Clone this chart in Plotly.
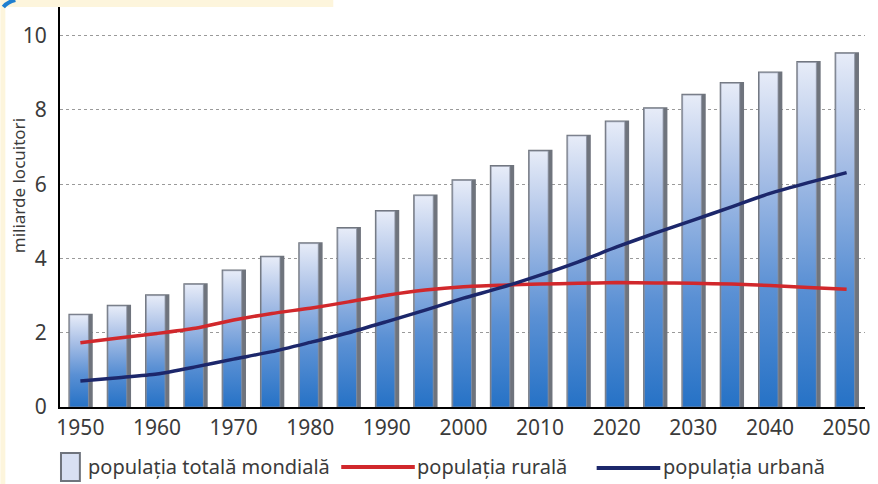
import plotly.graph_objects as go

# Data (billions of people)
years = list(range(1950, 2051, 5))
total = [2.48, 2.72, 3.0, 3.3, 3.67, 4.04, 4.4, 4.81, 5.27, 5.69, 6.1,
         6.48, 6.89, 7.3, 7.68, 8.04, 8.4, 8.72, 9.0, 9.28, 9.52]
rural = [1.73, 1.86, 1.98, 2.12, 2.34, 2.52, 2.66, 2.83, 3.01, 3.15, 3.24,
         3.28, 3.31, 3.33, 3.35, 3.34, 3.33, 3.31, 3.27, 3.22, 3.17]
urban = [0.70, 0.79, 0.89, 1.08, 1.29, 1.49, 1.74, 2.0, 2.30, 2.61, 2.93,
         3.22, 3.55, 3.91, 4.31, 4.68, 5.03, 5.39, 5.75, 6.04, 6.31]
tick_years = list(range(1950, 2051, 10))
y_ticks = [0, 2, 4, 6, 8, 10]

labels = ['populația totală mondială', 'populația rurală', 'populația urbană']
y_title = 'miliarde locuitori'

# Colors
shadow = '#6f747d'
red = '#d1282c'
navy = '#1c276b'
bar_scale = [[0, '#2672c6'], [0.35, '#5a90d4'], [0.7, '#a8bfe6'], [1, '#e7ecf8']]
font_family = 'Noto Sans, Open Sans, sans-serif'
text_color = '#3b3b3b'

# plot area in pixels (for placing the hand-made legend)
W, H = 878, 484
L, R, T, B = 60, 870, 7, 407


def px(x):
    return (x - L) / (R - L)


def py(y):
    return (B - y) / (B - T)


fig = go.Figure()

# bar "shadow" (the grey 3D edge on the right and top)
fig.add_trace(go.Bar(
    x=years, y=total, width=2.85, offset=-1.4,
    marker=dict(color=shadow, line=dict(color=shadow, width=2.5)),
    showlegend=False, hoverinfo='skip'
))

# bar faces with vertical gradient
for yr, v in zip(years, total):
    x0, x1 = yr - 1.4, yr + 1.05
    fig.add_trace(go.Scatter(
        x=[x0, x0, x1, x1, x0], y=[0, v, v, 0, 0],
        mode='lines', fill='toself',
        line=dict(color='#8a90a0', width=0.8),
        fillgradient=dict(type='vertical', colorscale=bar_scale, start=0, stop=v),
        showlegend=False, hoverinfo='skip'
    ))

fig.add_trace(go.Scatter(
    x=years, y=rural, mode='lines', name=labels[1],
    line=dict(color=red, width=3.5, shape='spline', smoothing=0.6),
    showlegend=False
))
fig.add_trace(go.Scatter(
    x=years, y=urban, mode='lines', name=labels[2],
    line=dict(color=navy, width=3.5, shape='spline', smoothing=0.6),
    showlegend=False
))

shapes = [
    # cream page strips (left edge and top band)
    dict(type='rect', xref='paper', yref='paper', x0=px(0), x1=px(5), y0=py(H), y1=py(0),
         fillcolor='#fdf5dc', line_width=0, layer='below'),
    dict(type='rect', xref='paper', yref='paper', x0=px(0), x1=px(335), y0=py(7), y1=py(0),
         fillcolor='#fdf5dc', line_width=0, layer='below'),
    # blue swoosh in the top-left corner
    dict(type='path', xref='paper', yref='paper',
         path=f'M {px(3)},{py(7)} Q {px(7)},{py(2)} {px(15)},{py(0)}',
         line=dict(color='#1f7fd0', width=4)),
    # legend symbols
    dict(type='rect', xref='paper', yref='paper', x0=px(61), x1=px(80), y0=py(481), y1=py(453),
         fillcolor='#d8e0f3', line=dict(color=shadow, width=2)),
    dict(type='line', xref='paper', yref='paper', x0=px(343), x1=px(417), y0=py(467), y1=py(467),
         line=dict(color=red, width=4)),
    dict(type='line', xref='paper', yref='paper', x0=px(600), x1=px(664), y0=py(468), y1=py(468),
         line=dict(color=navy, width=4)),
]

annotations = [
    dict(text=labels[0], xref='paper', yref='paper', x=px(86), y=py(466),
         xanchor='left', yanchor='middle', showarrow=False,
         font=dict(size=20, color=text_color, family=font_family)),
    dict(text=labels[1], xref='paper', yref='paper', x=px(417), y=py(466),
         xanchor='left', yanchor='middle', showarrow=False,
         font=dict(size=20, color=text_color, family=font_family)),
    dict(text=labels[2], xref='paper', yref='paper', x=px(665), y=py(466),
         xanchor='left', yanchor='middle', showarrow=False,
         font=dict(size=20, color=text_color, family=font_family)),
    dict(text=y_title, xref='paper', yref='paper', x=px(18), y=py(186),
         xanchor='center', yanchor='middle', textangle=-90, showarrow=False,
         font=dict(size=17, color=text_color, family=font_family)),
]

fig.update_layout(
    width=W, height=H,
    margin=dict(l=L, r=W - R, t=T, b=H - B),
    paper_bgcolor='white', plot_bgcolor='white',
    showlegend=False,
    barmode='overlay',
    shapes=shapes,
    annotations=annotations,
    font=dict(family=font_family, color=text_color),
)
fig.update_xaxes(
    range=[1947.34, 2052.4], tickvals=tick_years, ticks='',
    showgrid=False, zeroline=False,
    showline=True, linecolor='black', linewidth=2,
    tickfont=dict(size=21, color=text_color), ticklabelstandoff=1,
)
fig.update_yaxes(
    range=[0, 10.77], tickvals=y_ticks, ticks='',
    showgrid=True, gridcolor='#9a9a9a', griddash='dot', gridwidth=1,
    zeroline=False,
    showline=True, linecolor='black', linewidth=2,
    tickfont=dict(size=21, color=text_color), ticklabelstandoff=7,
)

# the page body has a default 8px margin; remove it so the figure sits at 0,0
fig.write_html("out.html", config={'displayModeBar': False},
               post_script="document.body.style.margin='0';")
